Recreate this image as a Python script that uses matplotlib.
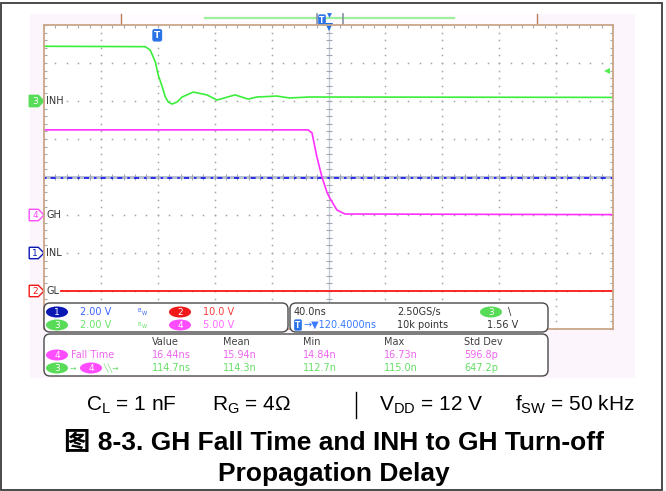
import numpy as np
import matplotlib.pyplot as plt
from matplotlib.patches import FancyBboxPatch, Ellipse, Polygon, Rectangle
from matplotlib.transforms import blended_transform_factory

plt.rcParams['font.family'] = ['DejaVu Sans']
plt.rcParams['mathtext.fontset'] = 'custom'
plt.rcParams['mathtext.rm'] = 'Liberation Sans'
plt.rcParams['mathtext.default'] = 'regular'

# scope settings
ns_per_div = 40.0
t_center = 120.4          # horizontal delay (ns)
volts_per_div = {1: 2.0, 2: 10.0, 3: 2.0, 4: 5.0}
ground_div = {1: -2, 2: -3, 3: 2, 4: -1}
names = {1: "INL", 2: "GL", 3: "INH", 4: "GH"}
trig_level = 1.56

# waveforms: time in ns, value in volts
inh_t = [-79.6, -8.4, -4.9, -1.4, 0.7, 3.5, 5.6, 7.7, 10.5, 14.0, 17.5, 25.3,
         35.0, 42.0, 54.7, 64.0, 70.0, 84.0, 93.0, 107.0, 320.4]
inh_v = [2.88, 2.86, 2.68, 2.07, 1.37, 0.75, 0.23, -0.05, -0.16, -0.05, 0.21,
         0.47, 0.32, 0.05, 0.32, 0.10, 0.21, 0.26, 0.16, 0.21, 0.19]
gh_t = [-79.6, 106.0, 108.8, 112.3, 115.8, 119.3, 121.4, 126.3, 132.0, 320.4]
gh_v = [11.2, 11.2, 10.8, 7.6, 5.0, 3.0, 2.2, 0.66, 0.13, 0.05]
inl_t = [-79.6, 320.4]
inl_v = [3.95, 3.95]
gl_t = [-79.6, 320.4]
gl_v = [0.05, 0.05]

# measurement panel
ch_rows = [("1", "2.00 V", "2", "10.0 V"), ("3", "2.00 V", "4", "5.00 V")]
meas_cols = ["Value", "Mean", "Min", "Max", "Std Dev"]
fall_time = ["16.44ns", "15.94n", "14.84n", "16.73n", "596.8p"]
prop_delay = ["114.7ns", "114.3n", "112.7n", "115.0n", "647.2p"]

col_trace = {1: "#1414f5", 2: "#ff1616", 3: "#3aef3a", 4: "#ff30ff"}
col_badge = {1: "#0a18b4", 2: "#f01818", 3: "#58dc58", 4: "#ff4cff"}
col_text = {1: "#3a64ff", 2: "#ff3a3a", 3: "#6ae46a", 4: "#ff6aff"}
col_meas = {3: "#66dd66", 4: "#ee66ee"}

W, H = 666, 491
fig = plt.figure(figsize=(W / 100, H / 100), dpi=100)

# ---- background / frame (pixel coordinates)
bg = fig.add_axes([0, 0, 1, 1], zorder=0)
bg.set_xlim(0, W)
bg.set_ylim(H, 0)
bg.axis("off")
bg.add_patch(Rectangle((1, 3), 661, 487, fc="white", ec="#3c3c3c", lw=1.3))
bg.add_patch(Rectangle((30, 14), 605, 364, fc="#fdf5fc", ec="none"))
bg.add_patch(Rectangle((121, 14), 416, 11, fc="#fffbfe", ec="none"))
bg.plot([121, 121], [14, 25], color="#b87d5a", lw=1.0)
bg.plot([537, 537], [14, 25], color="#b87d5a", lw=1.0)
bg.plot([205, 454], [18, 18], color="#9cf09c", lw=1.6)
bg.plot([317, 317], [14, 24], color="#8890a0", lw=1.2)
bg.plot([343, 343], [14, 24], color="#8890a0", lw=1.2)
bg.text(322, 20, "T", color="white", fontsize=5.5, fontweight="bold", ha="center", va="center",
        bbox=dict(boxstyle="round,pad=0.15,rounding_size=0.2", fc="#2a74e8", ec="none"))
bg.plot([329], [15], marker="v", ms=3.5, color="#2a74e8", mew=0)

# ---- scope graticule
ax = fig.add_axes([44 / W, 1 - 329 / H, 569 / W, 304 / H], zorder=1)
x0, x1 = t_center - 5 * ns_per_div, t_center + 5 * ns_per_div
ax.set_xlim(x0, x1)
ax.set_ylim(-4, 4)
ax.set_facecolor("white")
for s in ax.spines.values():
    s.set_color("#c9a68a")
    s.set_linewidth(1.3)

x_minor = x0 + ns_per_div / 5 * np.arange(51)
y_minor = -4 + 0.2 * np.arange(41)
ax.set_xticks(x_minor)
ax.set_yticks(y_minor)
ax.tick_params(direction="in", length=2.5, width=0.8, color="#a8a8a8",
               top=True, bottom=False, left=True, right=True,
               labelleft=False, labelbottom=False)

grid_col = "#a4a4a4"
for k in range(1, 10):
    if k == 5:
        continue
    xv = x0 + k * ns_per_div
    ax.plot(np.full(len(y_minor), xv), y_minor, ls="none", marker="s", ms=1.1, mew=0, color=grid_col)
for k in range(-3, 4):
    if k == 0:
        continue
    ax.plot(x_minor, np.full(len(x_minor), k), ls="none", marker="s", ms=1.1, mew=0, color=grid_col)

ax.axvline(t_center, color="#c8ccd8", lw=1.0)
ax.axhline(0, color="#b9c0cf", lw=2.2)
ax.plot(np.full(len(y_minor), t_center), y_minor, ls="none", marker="_", ms=5, mew=0.8, color="#a0a6b4")
ax.plot(x_minor, np.zeros(len(x_minor)), ls="none", marker="|", ms=5, mew=0.8, color="#a0a6b4")


def to_div(ch, volts):
    return ground_div[ch] + np.asarray(volts) / volts_per_div[ch]


ax.plot(gl_t, to_div(2, gl_v), color=col_trace[2], lw=1.3)
ax.plot(inl_t, to_div(1, inl_v), color=col_trace[1], lw=1.2, ls=(0, (1.5, 2.5, 3, 3)))
ax.plot(gh_t, to_div(4, gh_v), color=col_trace[4], lw=1.2)
ax.plot(inh_t, to_div(3, inh_v), color=col_trace[3], lw=1.2)

# trigger markers
ax.text(0, 3.73, "T", color="white", fontsize=6.5, fontweight="bold", ha="center", va="center",
        bbox=dict(boxstyle="round,pad=0.2,rounding_size=0.25", fc="#2a74e8", ec="none"))
ax.plot([t_center], [3.95], marker="v", ms=6, color="#1f6fe8", mew=0, clip_on=False)
trx = blended_transform_factory(ax.transAxes, ax.transData)
ax.plot([0.99], [to_div(3, trig_level)], marker="<", ms=5, color="#4ff04f", mew=0, transform=trx)

# channel ground markers and labels
for ch in (3, 4, 1, 2):
    y = ground_div[ch]
    hh = 0.15
    pts = [(-0.026, y - hh), (-0.01, y - hh), (0.0, y), (-0.01, y + hh), (-0.026, y + hh)]
    filled = ch == 3
    ax.add_patch(Polygon(pts, closed=True, transform=trx, clip_on=False,
                         fc=col_badge[ch] if filled else "white", ec=col_badge[ch], lw=1.0))
    ax.text(-0.0155, y, str(ch), transform=trx, fontsize=6.5, ha="center", va="center",
            color="white" if filled else col_badge[ch], clip_on=False)
    ax.text(0.004, y, names[ch], transform=trx, fontsize=7, ha="left", va="center", color="#333333",
            bbox=dict(boxstyle="square,pad=0.1", fc="white", ec="none"))

# ---- info panel (pixel coordinates)
pan = fig.add_axes([0, 0, 1, 1], zorder=3)
pan.set_xlim(0, W)
pan.set_ylim(H, 0)
pan.axis("off")


def box(xa, ya, xb, yb):
    pan.add_patch(FancyBboxPatch((xa, ya), xb - xa, yb - ya, boxstyle="round,pad=0,rounding_size=6",
                                 fc="white", ec="#4a4a4a", lw=1.0))


def badge(xc, yc, label, color):
    pan.add_patch(Ellipse((xc, yc), 22, 11, fc=color, ec="none"))
    pan.text(xc, yc + 0.3, label, color="white", fontsize=6.5, ha="center", va="center")


box(44, 303, 288, 332)
box(290, 303, 548, 332)
box(44, 334, 548, 376)

fs = 7
for (ca, va, cb, vb), yy in zip(ch_rows, (312, 325)):
    a, b = int(ca), int(cb)
    badge(57, yy, ca, col_badge[a])
    pan.text(80, yy, va, color=col_text[a], fontsize=fs, va="center")
    pan.text(138, yy - 1, "B", color=col_text[a], fontsize=3.8, va="center")
    pan.text(141.5, yy + 1.5, "W", color=col_text[a], fontsize=3.8, va="center")
    badge(180, yy, cb, col_badge[b])
    pan.text(203, yy, vb, color=col_text[b], fontsize=fs, va="center")

pan.text(294, 312, "40.0ns", color="#333333", fontsize=fs, va="center")
pan.text(298, 325, "T", color="white", fontsize=5.5, fontweight="bold", ha="center", va="center",
         bbox=dict(boxstyle="round,pad=0.15,rounding_size=0.2", fc="#2a74e8", ec="none"))
pan.text(303, 325, "\u2192\u25bc120.4000ns", color="#3a7aff", fontsize=fs, va="center")
pan.text(397, 312, "2.50GS/s", color="#333333", fontsize=fs, va="center")
pan.text(397, 325, "10k points", color="#333333", fontsize=fs, va="center")
badge(491, 312, "3", col_badge[3])
pan.text(508, 312, "\\", color="#333333", fontsize=fs, va="center")
pan.text(487, 325, "1.56 V", color="#333333", fontsize=fs, va="center")

col_x = [152, 223, 303, 384, 464]
for xx, lab in zip(col_x, meas_cols):
    pan.text(xx, 342, lab, color="#404040", fontsize=fs, va="center")
badge(57, 355, "4", col_badge[4])
pan.text(71, 355, "Fall Time", color=col_meas[4], fontsize=fs, va="center")
for xx, v in zip(col_x, fall_time):
    pan.text(xx, 355, v, color=col_meas[4], fontsize=fs, va="center")
badge(57, 368, "3", col_badge[3])
pan.text(70, 368, "\u2192", color=col_meas[3], fontsize=5.5, va="center")
badge(91, 368, "4", col_badge[4])
pan.text(103, 368, "\u2572\u2572\u2192", color=col_meas[3], fontsize=5.5, va="center")
for xx, v in zip(col_x, prop_delay):
    pan.text(xx, 368, v, color=col_meas[3], fontsize=fs, va="center")

# ---- caption and title
cap = dict(fontsize=15, va="center", ha="left", color="black", family="Liberation Sans")
pan.text(86, 405, "C$_L$ = 1 nF", **cap)
pan.text(212, 405, "R$_G$ = 4\u03a9", **cap)
pan.plot([356, 356], [392, 418], color="black", lw=1.0)
pan.text(379, 405, "V$_{DD}$ = 12 V", **cap)
pan.text(515, 405, "f$_{SW}$ = 50 kHz", **cap)

tfam = ["Liberation Sans", "Noto Sans CJK SC"]
pan.text(334, 443, "\u56fe 8-3. GH Fall Time and INH to GH Turn-off", fontsize=19, fontweight="bold",
         ha="center", va="center", family=tfam)
pan.text(334, 474, "Propagation Delay", fontsize=19, fontweight="bold",
         ha="center", va="center", family=tfam)

fig.savefig("out.png", dpi=100)
